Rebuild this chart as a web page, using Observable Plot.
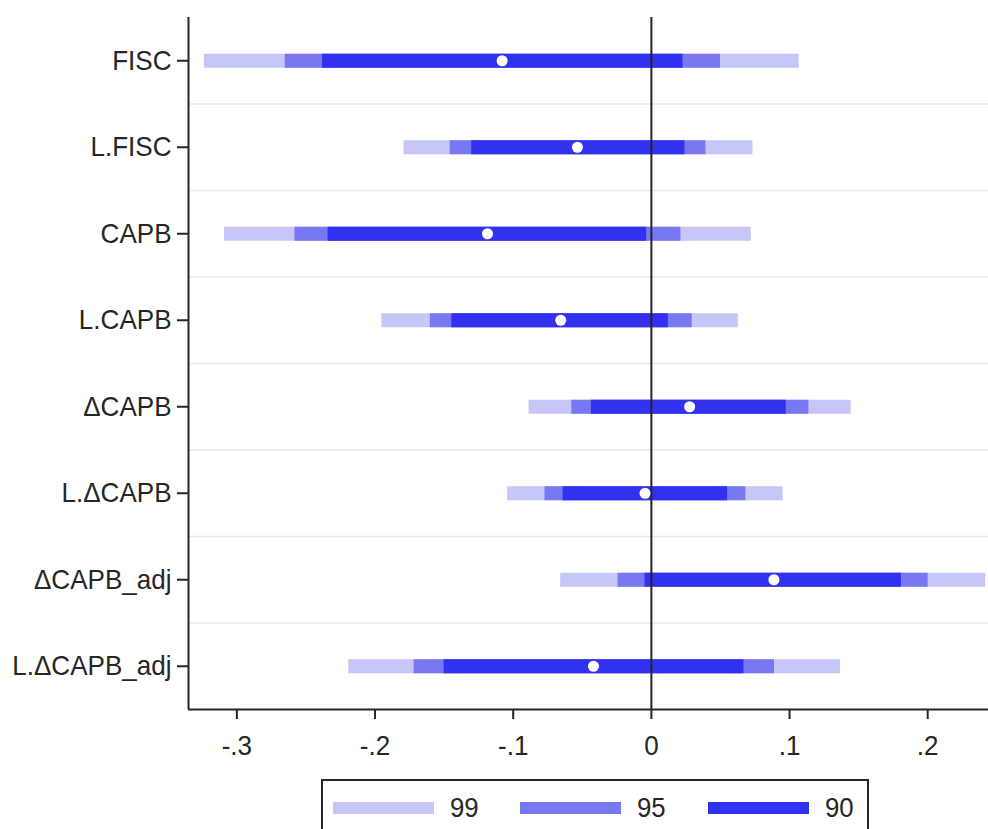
<!DOCTYPE html>
<html><head><meta charset="utf-8">
<script src="https://cdn.jsdelivr.net/npm/d3@7"></script>
<script src="https://cdn.jsdelivr.net/npm/@observablehq/plot@0.6"></script>
<style>
html,body{margin:0;padding:0;background:#fff;overflow:hidden;font-family:"Liberation Sans",Arial,sans-serif;}
#legend{position:relative;margin-left:321px;margin-top:9px;width:548px;height:52px;border:2px solid #262626;border-bottom:none;box-sizing:border-box;}
.item{position:absolute;top:20px;height:14px;display:flex;align-items:center;}
.sw{width:101px;height:12px;flex:none;}
.lab{font-size:28px;color:#262626;margin-left:16px;transform:scaleX(0.92);transform-origin:left center;line-height:1;}
</style>
</head><body>
<div id="chart"></div>
<div id="legend"></div>
<script>
// ---- data ----
const terms = ["FISC","L.FISC","CAPB","L.CAPB","ΔCAPB","L.ΔCAPB","ΔCAPB_adj","L.ΔCAPB_adj"];
const coef  = [-0.108, -0.0535, -0.1186, -0.0656, 0.0277, -0.0046, 0.0887, -0.0419];
const lo99  = [-0.3235, -0.179, -0.309, -0.195, -0.0885, -0.104, -0.0656, -0.219];
const hi99  = [0.107, 0.0735, 0.0723, 0.0629, 0.1446, 0.0954, 0.242, 0.1369];
const lo95  = [-0.265, -0.1456, -0.258, -0.160, -0.0576, -0.077, -0.0241, -0.1717];
const hi95  = [0.050, 0.0395, 0.0214, 0.0296, 0.114, 0.0684, 0.2003, 0.0891];
const lo90  = [-0.238, -0.130, -0.234, -0.1444, -0.0434, -0.0639, -0.0046, -0.150];
const hi90  = [0.0229, 0.0243, -0.0034, 0.0123, 0.0976, 0.0552, 0.181, 0.067];
const levels = ["99","95","90"];
const levelColors = ["#c6c6f8","#7878f2","#3131ef"];
const xTicks = [-0.3,-0.2,-0.1,0,0.1,0.2];
const xTickLabels = ["-.3","-.2","-.1","0",".1",".2"];

// ---- build tables ----
const rowIdx = terms.map((_, i) => i);
const rows = terms.map((term, i) => ({i, term, coef: coef[i]}));
const lows = [lo99, lo95, lo90], highs = [hi99, hi95, hi90];
const intervals = levels.flatMap((level, k) => terms.map((term, i) => ({i, level, lo: lows[k][i], hi: highs[k][i]})));
const gridPos = rowIdx.slice(0, -1).map(i => i + 0.5);
const xDomain = [-0.335, 0.244];
const yDomain = [terms.length - 0.5, -0.5];
const ink = "#262626";

const chart = Plot.plot({
  width: 988,
  height: 770,
  marginLeft: 188,
  marginRight: 0,
  marginTop: 17,
  marginBottom: 61,
  style: {fontFamily: "'Liberation Sans', Arial, sans-serif", fontSize: "28px", color: ink, background: "white"},
  x: {domain: xDomain, label: null},
  y: {domain: yDomain, label: null},
  color: {domain: levels, range: levelColors},
  marks: [
    Plot.ruleY(gridPos, {stroke: "#e9e9e9", strokeWidth: 1.5}),
    Plot.ruleY(intervals, {y: "i", x1: "lo", x2: "hi", stroke: "level", strokeWidth: 14}),
    Plot.ruleX([0], {stroke: ink, strokeWidth: 2}),
    Plot.dot(rows, {x: "coef", y: "i", r: 5.5, fill: "white", stroke: "none"}),
    Plot.ruleX([xDomain[0]], {stroke: ink, strokeWidth: 2}),
    Plot.ruleY([yDomain[0]], {stroke: ink, strokeWidth: 2}),
    Plot.axisX({ticks: xTicks, tickFormat: (d) => xTickLabels[xTicks.indexOf(d)], tickSize: 10, tickPadding: 16, fontSize: 28, strokeWidth: 2, label: null}),
    Plot.axisY({ticks: rowIdx, tickFormat: (i) => terms[i], tickSize: 11, tickPadding: 6, fontSize: 28, strokeWidth: 2, label: null})
  ]
});
document.getElementById("chart").appendChild(chart);

// horizontally condense text like the original rendering
for (const t of chart.querySelectorAll("text")) {
  const L = t.getComputedTextLength();
  if (L > 0) {
    t.setAttribute("textLength", (L * 0.93).toFixed(2));
    t.setAttribute("lengthAdjust", "spacingAndGlyphs");
  }
}

// legend
const legend = document.getElementById("legend");
levels.forEach((level, k) => {
  const item = document.createElement("div");
  item.className = "item";
  item.style.left = (9.6 + k * 187.5) + "px";
  const sw = document.createElement("div");
  sw.className = "sw";
  sw.style.background = levelColors[k];
  const lab = document.createElement("span");
  lab.className = "lab";
  lab.textContent = level;
  item.appendChild(sw);
  item.appendChild(lab);
  legend.appendChild(item);
});
</script>
</body></html>
